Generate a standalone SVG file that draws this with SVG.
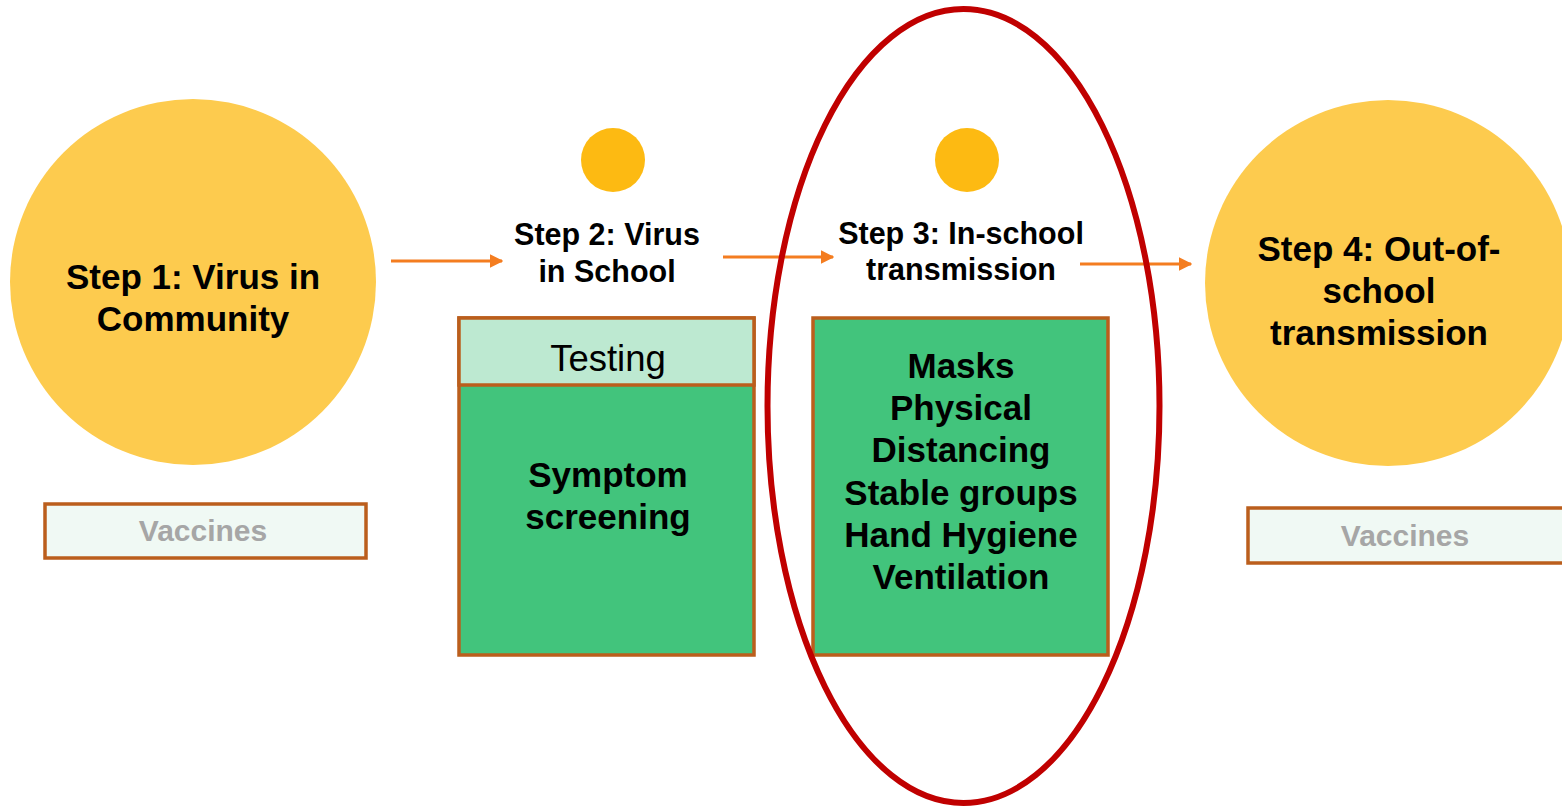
<svg xmlns="http://www.w3.org/2000/svg" width="1562" height="807" viewBox="0 0 1562 807">
  <defs>
    <marker id="arrowhead" viewBox="0 0 10 10" refX="9" refY="5" markerWidth="4.5" markerHeight="4.5" orient="auto" markerUnits="strokeWidth">
      <path d="M0,0 L10,5 L0,10 z" fill="#f47d20"/>
    </marker>
    <style>
      text { font-family: "Liberation Sans", Arial, sans-serif; text-anchor: middle; fill: #000; }
      .big { font-size: 35px; font-weight: bold; }
      .mid { font-size: 30.5px; font-weight: bold; }
      .list { font-size: 35px; font-weight: bold; }
      .vacc { font-size: 30px; font-weight: bold; fill: #a6a6a6; }
      .test { font-size: 36.5px; }
      .stepcircle { fill: #fdcb4e; }
      .dot { fill: #fdba12; }
      .box { stroke: #bb5e1c; stroke-width: 3.5; }
      .conn { stroke: #f47d20; stroke-width: 3; fill: none; marker-end: url(#arrowhead); }
    </style>
  </defs>

  <g id="connectors">
    <line class="conn" x1="391" y1="261" x2="502" y2="261"/>
    <line class="conn" x1="723" y1="257" x2="833" y2="257"/>
    <line class="conn" x1="1080" y1="264" x2="1191" y2="264"/>
  </g>

  <g id="step1">
    <circle class="stepcircle" cx="193" cy="282" r="183"/>
    <text class="big" x="193" y="289">Step 1: Virus in</text>
    <text class="big" x="193" y="331">Community</text>
  </g>

  <g id="vaccines-left">
    <rect class="box" x="45" y="504" width="321" height="54" fill="#f0f9f4"/>
    <text class="vacc" x="203" y="541">Vaccines</text>
  </g>

  <g id="step2">
    <circle class="dot" cx="613" cy="160" r="32"/>
    <text class="mid" x="607" y="245">Step 2: Virus</text>
    <text class="mid" x="607" y="282">in School</text>
  </g>

  <g id="step2-measures">
    <rect class="box" x="459" y="318" width="295" height="337" fill="#42c47c"/>
    <rect class="box" x="459" y="318" width="295" height="67" fill="#bde9d1"/>
    <text class="test" x="608" y="371">Testing</text>
    <text class="list" x="608" y="487">Symptom</text>
    <text class="list" x="608" y="529">screening</text>
  </g>

  <g id="step3">
    <circle class="dot" cx="967" cy="160" r="32"/>
    <text class="mid" x="961" y="244">Step 3: In-school</text>
    <text class="mid" x="961" y="280">transmission</text>
  </g>

  <g id="step3-measures">
    <rect class="box" x="813" y="318" width="295" height="337" fill="#42c47c"/>
    <text class="list" x="961" y="378">Masks</text>
    <text class="list" x="961" y="420">Physical</text>
    <text class="list" x="961" y="462">Distancing</text>
    <text class="list" x="961" y="505">Stable groups</text>
    <text class="list" x="961" y="547">Hand Hygiene</text>
    <text class="list" x="961" y="589">Ventilation</text>
  </g>

  <g id="highlight">
    <ellipse cx="963.5" cy="406" rx="196" ry="397" fill="none" stroke="#c00000" stroke-width="6"/>
  </g>

  <g id="step4">
    <circle class="stepcircle" cx="1388" cy="283" r="183"/>
    <text class="big" x="1379" y="261">Step 4: Out-of-</text>
    <text class="big" x="1379" y="303">school</text>
    <text class="big" x="1379" y="345">transmission</text>
  </g>

  <g id="vaccines-right">
    <rect class="box" x="1248" y="508" width="330" height="55" fill="#f0f9f4"/>
    <text class="vacc" x="1405" y="546">Vaccines</text>
  </g>
</svg>
